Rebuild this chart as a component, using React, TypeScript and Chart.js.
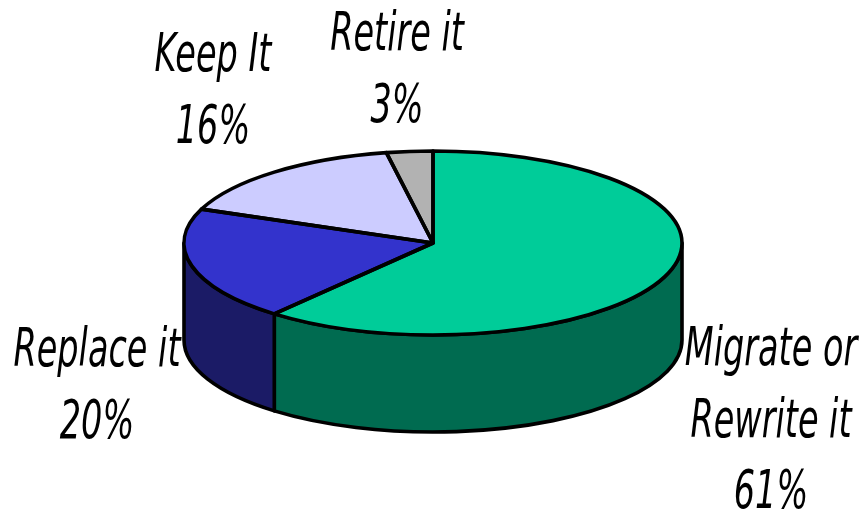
import React, { useEffect, useRef } from "react";
import { Chart, registerables } from "chart.js";

Chart.register(...registerables);

const categories = ["Migrate or Rewrite it", "Replace it", "Keep It", "Retire it"];
const shares = [61, 20, 16, 3];
const topColors = ["#00CC99", "#3333CC", "#CCCCFF", "#B2B2B2"];
const wallColors = ["#006B50", "#1B1B66", "#6B6B86", "#5D5D5D"];
const labelLines = [
  ["Migrate or", "Rewrite it", "61%"],
  ["Replace it", "20%"],
  ["Keep It", "16%"],
  ["Retire it", "3%"],
];
const labelAnchors = [
  [771, 365],
  [97, 366],
  [213, 71],
  [397, 50],
];

const CX = 433;
const CY = 243;
const RX = 249;
const RY = 92;
const DEPTH = 97;
const LINE_GAP = 71.5;
const OUTLINE = 3.6;
const FONT = "italic 54px 'DejaVu Sans'";
const X_SQUEEZE = 0.62;

const pie3d = {
  id: "pie3d",
  beforeDatasetsDraw(chart: any) {
    const ctx = chart.ctx;
    const meta = chart.getDatasetMeta(0);
    ctx.save();
    ctx.lineWidth = OUTLINE;
    ctx.strokeStyle = "#000";
    ctx.lineJoin = "round";
    meta.data.forEach((arc: any, i: number) => {
      const start = Math.max(arc.startAngle, 0);
      const end = Math.min(arc.endAngle, Math.PI);
      if (end <= start) return;
      ctx.beginPath();
      ctx.ellipse(CX, CY, RX, RY, 0, start, end, false);
      ctx.ellipse(CX, CY + DEPTH, RX, RY, 0, end, start, true);
      ctx.closePath();
      ctx.fillStyle = wallColors[i];
      ctx.fill();
      ctx.stroke();
    });
    ctx.restore();
  },
  beforeDatasetDraw(chart: any) {
    const ctx = chart.ctx;
    const arc = chart.getDatasetMeta(0).data[0];
    ctx.save();
    ctx.translate(CX, CY);
    ctx.scale(RX / arc.outerRadius, RY / arc.outerRadius);
    ctx.translate(-arc.x, -arc.y);
  },
  afterDatasetDraw(chart: any) {
    const ctx = chart.ctx;
    ctx.restore();
    ctx.save();
    ctx.lineWidth = OUTLINE;
    ctx.strokeStyle = "#000";
    ctx.lineJoin = "round";
    chart.getDatasetMeta(0).data.forEach((arc: any) => {
      ctx.beginPath();
      ctx.moveTo(CX, CY);
      ctx.ellipse(CX, CY, RX, RY, 0, arc.startAngle, arc.endAngle, false);
      ctx.closePath();
      ctx.stroke();
    });
    ctx.restore();
  },
  afterDatasetsDraw(chart: any) {
    const ctx = chart.ctx;
    ctx.save();
    ctx.font = FONT;
    ctx.fillStyle = "#000";
    ctx.textAlign = "center";
    ctx.textBaseline = "alphabetic";
    labelLines.forEach((lines, i) => {
      const [x, y] = labelAnchors[i];
      lines.forEach((line, j) => {
        ctx.save();
        ctx.translate(x, y + j * LINE_GAP);
        ctx.scale(X_SQUEEZE, 1);
        ctx.fillText(line, 0, 0);
        ctx.restore();
      });
    });
    ctx.restore();
  },
};

export default function App() {
  const ref = useRef<HTMLCanvasElement>(null);
  useEffect(() => {
    document.body.style.margin = "0";
    const chart = new Chart(ref.current!, {
      type: "pie",
      data: {
        labels: categories,
        datasets: [
          {
            data: shares,
            backgroundColor: topColors,
            borderWidth: 0,
          },
        ],
      },
      options: {
        responsive: false,
        animation: false,
        events: [],
        plugins: { legend: { display: false }, tooltip: { enabled: false } },
      },
      plugins: [pie3d],
    } as any);
    return () => chart.destroy();
  }, []);
  return <canvas ref={ref} width={865} height={512} style={{ display: "block" }} />;
}
